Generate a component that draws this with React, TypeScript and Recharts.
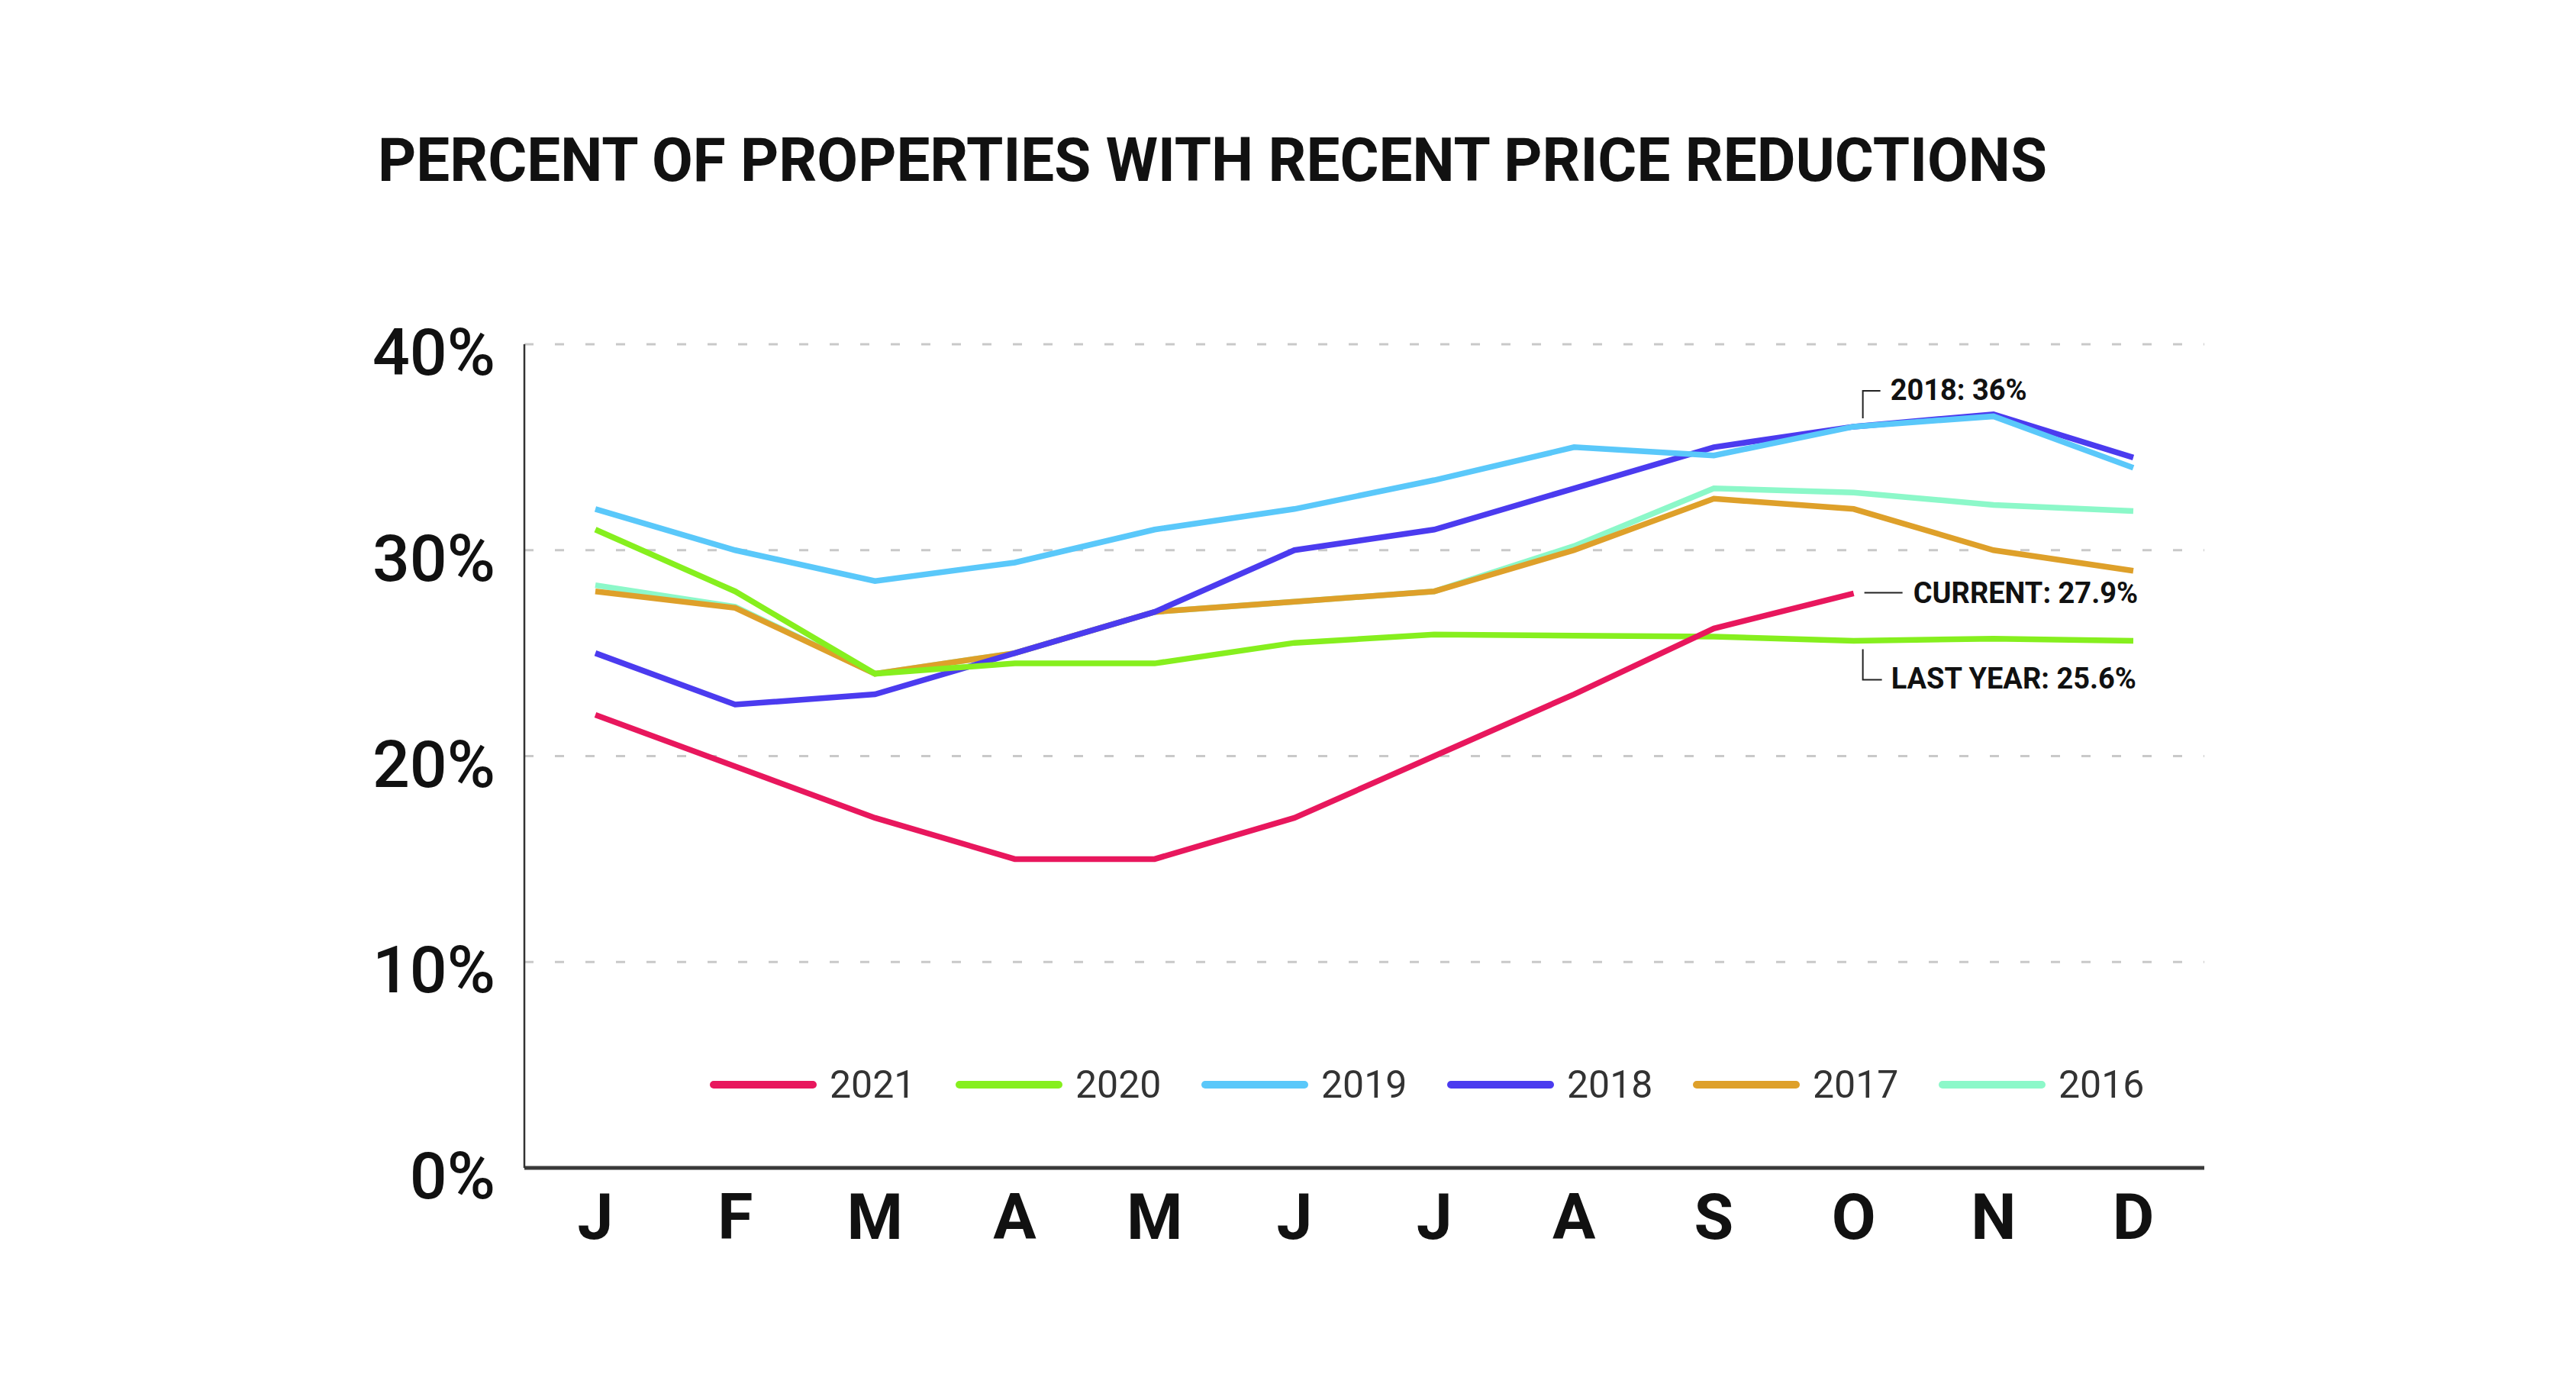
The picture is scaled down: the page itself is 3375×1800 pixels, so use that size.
import React from 'react';
import { LineChart, Line, XAxis, YAxis, CartesianGrid, ReferenceDot } from 'recharts';

const MONTHS = ['Jan', 'Feb', 'Mar', 'Apr', 'May', 'Jun', 'Jul', 'Aug', 'Sep', 'Oct', 'Nov', 'Dec'];
const MONTH_LABELS = ['J', 'F', 'M', 'A', 'M', 'J', 'J', 'A', 'S', 'O', 'N', 'D'];

const S2021 = [22, 19.5, 17, 15, 15, 17, 20, 23, 26.2, 27.9, null, null];
const S2020 = [31, 28, 24, 24.5, 24.5, 25.5, 25.9, 25.85, 25.8, 25.6, 25.7, 25.6];
const S2019 = [32, 30, 28.5, 29.4, 31, 32, 33.4, 35, 34.6, 36, 36.5, 34];
const S2018 = [25, 22.5, 23, 25, 27, 30, 31, 33, 35, 36, 36.6, 34.5];
const S2017 = [28, 27.2, 24, 25, 27, 27.5, 28, 30, 32.5, 32, 30, 29];
const S2016 = [28.3, 27.25, 24, 25, 27, 27.5, 28, 30.2, 33, 32.8, 32.2, 31.9];

const Y_TICKS = [0, 10, 20, 30, 40];
const TITLE = 'PERCENT OF PROPERTIES WITH RECENT PRICE REDUCTIONS';

const SERIES = [
  { key: 'y2021', name: '2021', values: S2021, color: '#e8175d' },
  { key: 'y2020', name: '2020', values: S2020, color: '#86ef1e' },
  { key: 'y2019', name: '2019', values: S2019, color: '#5ac8fa' },
  { key: 'y2018', name: '2018', values: S2018, color: '#4b3bef' },
  { key: 'y2017', name: '2017', values: S2017, color: '#dea02a' },
  { key: 'y2016', name: '2016', values: S2016, color: '#8cf8c9' },
];

const data = MONTHS.map((m, i) => {
  const row: any = { month: m };
  SERIES.forEach((s) => {
    row[s.key] = s.values[i];
  });
  return row;
});

const FONT = 'Roboto, "Noto Sans", sans-serif';
const ANN = 9; // October index
const INK = '#222';

const YTick = (props: any) => {
  const { x, y, payload } = props;
  return (
    <text x={x} y={y + 40} textAnchor="end" fontFamily={FONT} fontWeight={500} fontSize={86} fill="#111">
      {payload.value}%
    </text>
  );
};

const XTick = (props: any) => {
  const { x, y, payload } = props;
  const i = MONTHS.indexOf(payload.value);
  return (
    <text x={x} y={y + 93} textAnchor="middle" fontFamily={FONT} fontWeight={700} fontSize={84} fill="#111">
      {MONTH_LABELS[i]}
    </text>
  );
};

const annText = { fontFamily: FONT, fontWeight: 700, fontSize: 38, fill: '#111' } as const;

const Ann2018 = (p: any) => {
  const { cx, cy } = p;
  return (
    <g>
      <polyline points={`${cx + 12},${cy - 11} ${cx + 12},${cy - 47} ${cx + 35},${cy - 47}`} fill="none" stroke={INK} strokeWidth={2} />
      <text x={cx + 48} y={cy - 35} {...annText}>{`2018: ${S2018[ANN]}%`}</text>
    </g>
  );
};

const AnnCurrent = (p: any) => {
  const { cx, cy } = p;
  return (
    <g>
      <line x1={cx + 14} y1={cy - 1} x2={cx + 64} y2={cy - 1} stroke={INK} strokeWidth={2} />
      <text x={cx + 78} y={cy + 13} {...annText}>{`CURRENT: ${S2021[ANN]}%`}</text>
    </g>
  );
};

const AnnLast = (p: any) => {
  const { cx, cy } = p;
  return (
    <g>
      <polyline points={`${cx + 12},${cy + 11} ${cx + 12},${cy + 51} ${cx + 37},${cy + 51}`} fill="none" stroke={INK} strokeWidth={2} />
      <text x={cx + 49} y={cy + 63} {...annText}>{`LAST YEAR: ${S2020[ANN]}%`}</text>
    </g>
  );
};

export default function App() {
  const drawOrder = [...SERIES].reverse();
  return (
    <div style={{ position: 'absolute', left: 0, top: 0, width: 3375, height: 1800, background: '#fff', overflow: 'hidden' }}>
      <svg width={3375} height={300} style={{ position: 'absolute', left: 0, top: 0 }}>
        <text x={495} y={237} textLength={2187} lengthAdjust="spacingAndGlyphs" fontFamily={FONT} fontWeight={700} fontSize={80} fill="#111">
          {TITLE}
        </text>
      </svg>
      <div style={{ position: 'absolute', left: 0, top: 0 }}>
        <LineChart width={3375} height={1800} data={data} margin={{ top: 451, right: 487, bottom: 150, left: 487 }}>
          <CartesianGrid vertical={false} stroke="#c9c9c9" strokeWidth={3} strokeDasharray="12 28" />
          <XAxis
            dataKey="month"
            type="category"
            height={120}
            padding={{ left: 93, right: 93 }}
            tickLine={false}
            tickSize={0}
            tickMargin={0}
            axisLine={{ stroke: '#3a3a3a', strokeWidth: 5 }}
            tick={<XTick />}
            interval={0}
          />
          <YAxis
            type="number"
            domain={[0, 40]}
            ticks={Y_TICKS}
            width={200}
            tickLine={false}
            tickSize={0}
            tickMargin={38}
            axisLine={{ stroke: '#333', strokeWidth: 2.5 }}
            tick={<YTick />}
            interval={0}
          />
          {drawOrder.map((s) => (
            <Line
              key={s.key}
              type="linear"
              dataKey={s.key}
              name={s.name}
              stroke={s.color}
              strokeWidth={7.5}
              dot={false}
              activeDot={false}
              isAnimationActive={false}
              connectNulls={false}
            />
          ))}
          <ReferenceDot x={MONTHS[ANN]} y={S2018[ANN]} r={0} shape={Ann2018} ifOverflow="visible" />
          <ReferenceDot x={MONTHS[ANN]} y={S2021[ANN] as number} r={0} shape={AnnCurrent} ifOverflow="visible" />
          <ReferenceDot x={MONTHS[ANN]} y={S2020[ANN]} r={0} shape={AnnLast} ifOverflow="visible" />
        </LineChart>
      </div>
      <div style={{ position: 'absolute', left: 930, top: 1393, display: 'flex', alignItems: 'center' }}>
        {SERIES.map((s) => (
          <div key={s.key} style={{ width: 322, display: 'flex', alignItems: 'center' }}>
            <div style={{ width: 140, height: 10, borderRadius: 5, background: s.color }} />
            <span style={{ marginLeft: 17, fontFamily: FONT, fontSize: 50, color: '#333', lineHeight: '56px' }}>{s.name}</span>
          </div>
        ))}
      </div>
    </div>
  );
}
